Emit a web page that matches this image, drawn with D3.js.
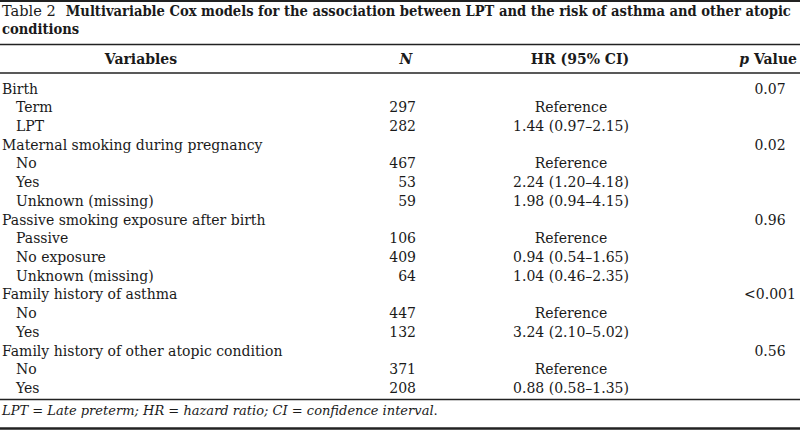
<!DOCTYPE html>
<html>
<head>
<meta charset="utf-8">
<script src="https://cdn.jsdelivr.net/npm/d3@7"></script>
<style>
  html, body { margin: 0; padding: 0; background: #fff; }
  svg { display: block; }
  text { font-family: "DejaVu Serif", "Liberation Serif", serif; fill: #1a1a1a; }
  .cond { font-family: "DejaVu Serif Condensed", "DejaVu Serif", serif; font-stretch: condensed; }
</style>
</head>
<body>
<svg id="chart" width="800" height="433"></svg>
<script>
// ---- data ----
const tableLabel = "Table 2";
const titleLine1 = "Multivariable Cox models for the association between LPT and the risk of asthma and other atopic";
const titleLine2 = "conditions";
const headers = ["Variables", "N", "HR (95% CI)", "p Value"];
const groups = [
  "Birth",
  "Maternal smoking during pregnancy",
  "Passive smoking exposure after birth",
  "Family history of asthma",
  "Family history of other atopic condition"
];
const groupP = ["0.07", "0.02", "0.96", "<0.001", "0.56"];
const levels = [
  ["Term", "LPT"],
  ["No", "Yes", "Unknown (missing)"],
  ["Passive", "No exposure", "Unknown (missing)"],
  ["No", "Yes"],
  ["No", "Yes"]
];
const counts = [
  [297, 282],
  [467, 53, 59],
  [106, 409, 64],
  [447, 132],
  [371, 208]
];
const hrs = [
  ["Reference", "1.44 (0.97–2.15)"],
  ["Reference", "2.24 (1.20–4.18)", "1.98 (0.94–4.15)"],
  ["Reference", "0.94 (0.54–1.65)", "1.04 (0.46–2.35)"],
  ["Reference", "3.24 (2.10–5.02)"],
  ["Reference", "0.88 (0.58–1.35)"]
];
const footnoteParts = [
  ["LPT", true], [" = ", false], ["Late preterm; HR", true], [" = ", false],
  ["hazard ratio; CI", true], [" = ", false], ["confidence interval", true], [".", false]
];

// ---- build rows ----
const rows = [];
groups.forEach((g, gi) => {
  rows.push({ type: "group", label: g, p: groupP[gi] });
  levels[gi].forEach((l, li) => {
    rows.push({ type: "level", label: l, n: counts[gi][li], hr: hrs[gi][li] });
  });
});

// ---- layout ----
const W = 800, H = 433, FS = 14;
const svg = d3.select("#chart");
svg.append("rect").attr("width", W).attr("height", H).attr("fill", "#fff");

const y = d3.scaleLinear().domain([0, rows.length - 1]).range([93.5, 393]);
const col = { var: 2, varIndent: 16, varHead: 141, n: 416, nHead: 406, hr: 571, hrHead: 580, p: 770, pHead: 797 };

// rules
const rules = [
  { y: 1, w: 2 },
  { y: 44.5, w: 1.3 },
  { y: 73, w: 1.3 },
  { y: 399.5, w: 1.3 },
  { y: 428.5, w: 2.6 }
];
svg.selectAll("line.rule").data(rules).join("line")
  .attr("class", "rule")
  .attr("x1", 0).attr("x2", W)
  .attr("y1", d => d.y).attr("y2", d => d.y)
  .attr("stroke", "#222").attr("stroke-width", d => d.w);

// title
const t1 = svg.append("text").attr("x", 2).attr("y", 16).attr("font-size", FS);
t1.append("tspan").text(tableLabel);
t1.append("tspan").attr("dx", 10).attr("font-weight", "bold").attr("class", "cond").text(titleLine1);
const t2 = svg.append("text").attr("x", 2).attr("y", 34).attr("font-size", FS)
  .attr("font-weight", "bold").attr("class", "cond").text(titleLine2);
// fit line 1 to the reference width
const tw = t1.node().getComputedTextLength();
const tfs = Math.min(15, FS * 780 / tw);
t1.attr("font-size", tfs); t2.attr("font-size", tfs);

// headers
const hy = 64;
svg.append("text").attr("x", col.varHead).attr("y", hy).attr("text-anchor", "middle")
  .attr("font-size", FS).attr("font-weight", "bold").text(headers[0]);
svg.append("text").attr("x", col.nHead).attr("y", hy).attr("text-anchor", "middle")
  .attr("font-size", FS).attr("font-weight", "bold").attr("font-style", "italic").text(headers[1]);
svg.append("text").attr("x", col.hrHead).attr("y", hy).attr("text-anchor", "middle")
  .attr("font-size", FS).attr("font-weight", "bold").text(headers[2]);
const ph = svg.append("text").attr("x", col.pHead).attr("y", hy).attr("text-anchor", "end")
  .attr("font-size", FS).attr("font-weight", "bold");
ph.append("tspan").attr("font-style", "italic").text(headers[3].split(" ")[0]);
ph.append("tspan").text(" " + headers[3].split(" ")[1]);

// body
const g = svg.append("g").attr("font-size", FS);
const rowG = g.selectAll("g.row").data(rows).join("g").attr("class", "row")
  .attr("transform", (d, i) => `translate(0,${y(i)})`);
rowG.append("text")
  .attr("x", d => d.type === "group" ? col.var : col.varIndent)
  .text(d => d.label);
rowG.filter(d => d.type === "level").append("text")
  .attr("x", col.n).attr("text-anchor", "end").text(d => d.n);
rowG.filter(d => d.type === "level").append("text")
  .attr("x", col.hr).attr("text-anchor", "middle").text(d => d.hr);
rowG.filter(d => d.type === "group").append("text")
  .attr("x", col.p).attr("text-anchor", "middle").text(d => d.p);

// footnote
const fn = svg.append("text").attr("x", 2).attr("y", 415).attr("font-size", FS);
fn.selectAll("tspan").data(footnoteParts).join("tspan")
  .attr("font-style", d => d[1] ? "italic" : "normal")
  .text(d => d[0]);
const fw = fn.node().getComputedTextLength();
if (fw > 436) fn.attr("font-size", FS * 436 / fw);
</script>
</body>
</html>
